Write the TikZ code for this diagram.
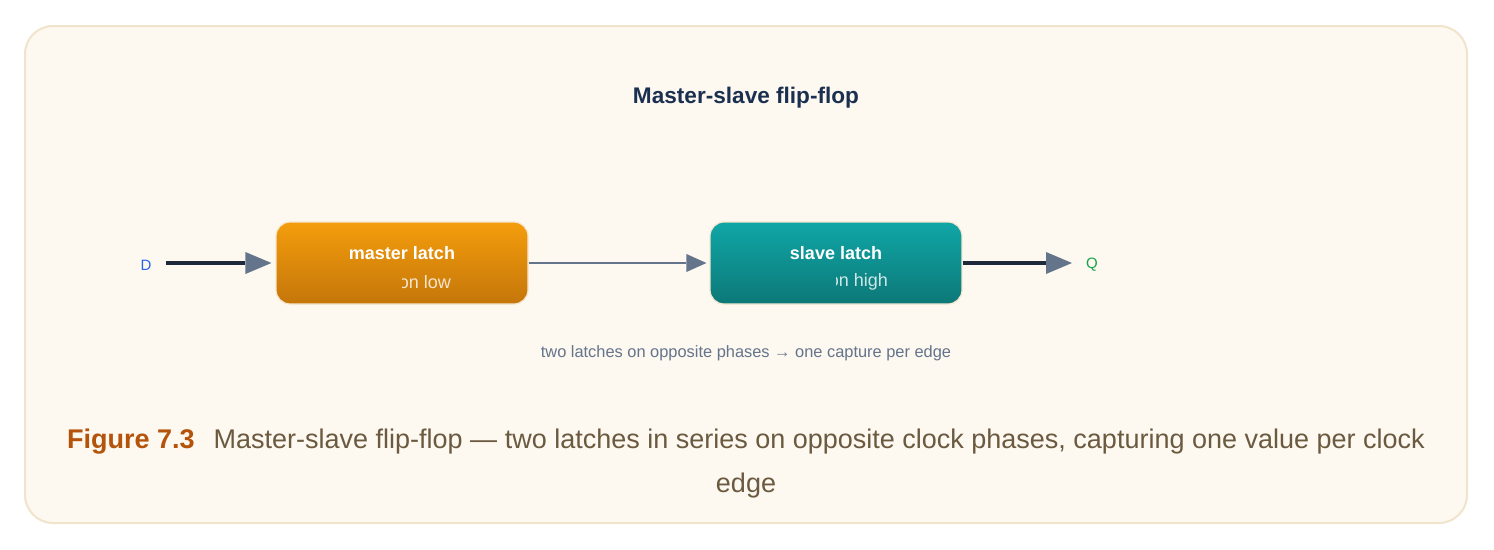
\documentclass[tikz,border=0pt]{standalone}
\usepackage{fontspec}
\setmainfont{Liberation Sans}
\usetikzlibrary{arrows.meta}
\definecolor{pagebg}{HTML}{FDF8F0}
\definecolor{pageborder}{HTML}{F1E4CC}
\definecolor{orgtop}{HTML}{F49D0C}
\definecolor{orgbot}{HTML}{C4760A}
\definecolor{tealtop}{HTML}{10A6A6}
\definecolor{tealbot}{HTML}{0D7878}
\definecolor{boxborder}{HTML}{F6E7CF}
\definecolor{darkline}{HTML}{1E293B}
\definecolor{slate}{HTML}{64748B}
\definecolor{titlec}{HTML}{1B3050}
\definecolor{dblue}{HTML}{2563EB}
\definecolor{qgreen}{HTML}{16A34A}
\definecolor{figc}{HTML}{B45309}
\definecolor{capc}{HTML}{6B5A40}
\tikzset{
  latchbox/.style={rectangle, rounded corners=14pt, minimum width=252pt, minimum height=82pt, draw=boxborder, line width=1.2pt},
  latchname/.style={text=white, font=\fontsize{18}{21}\selectfont\bfseries, inner sep=0pt, anchor=center},
  latchsub/.style={text=white, text opacity=0.8, font=\fontsize{18}{21}\selectfont, inner sep=0pt, anchor=east},
  thickarrow/.style={draw=darkline, line width=4pt, -{Triangle[length=26pt,width=22pt,line width=0pt,color=slate]}},
  thinarrow/.style={draw=slate, line width=2.8pt, -{Triangle[length=20pt,width=18pt,line width=0pt,color=slate]}},
  portlabel/.style={font=\fontsize{15}{18}\selectfont, inner sep=0pt}
}
\begin{document}
\begin{tikzpicture}[x=1pt,y=-1pt]
\useasboundingbox (0,0) rectangle (1494,549);
\fill[white] (0,0) rectangle (1494,549);
\draw[fill=pagebg, draw=pageborder, line width=2pt, rounded corners=28pt] (25,26) rectangle (1467,523);

\node[font=\fontsize{22.6}{26}\selectfont\bfseries, text=titlec] (title) at (746,98) {Master-slave flip-flop};

\node[latchbox, top color=orgtop, bottom color=orgbot] (master) at (402,263) {};
\node[latchbox, top color=tealtop, bottom color=tealbot] (slave) at (836,263) {};

\node[latchname] (mname) at (402,253) {master latch};
\node[latchname] (sname) at (836,253) {slave latch};
\begin{scope}
  \clip (402,266) rectangle (528,300);
  \node[latchsub] (msub) at (451,282) {on low};
\end{scope}
\begin{scope}
  \clip (836,266) rectangle (962,300);
  \node[latchsub] (ssub) at (888,282) {on high};
\end{scope}

\node[portlabel, text=dblue] (D) at (146,265) {D};
\node[portlabel, text=qgreen] (Q) at (1092,265) {Q};
\coordinate (din) at (166,263);
\coordinate (qout) at (1072,263);

\draw[thickarrow, shorten >=4pt] (din) -- (master.west);
\draw[thinarrow, shorten >=3pt] (master.east) -- (slave.west);
\draw[thickarrow] (slave.east) -- (qout);

\node[font=\fontsize{16.4}{20}\selectfont, text=slate] (note) at (746,353) {two latches on opposite phases → one capture per edge};

\node[font=\fontsize{27}{30}\selectfont, text=capc] (cap1) at (746,442) {\textbf{\color{figc}Figure 7.3}\hspace{19pt}Master-slave flip-flop — two latches in series on opposite clock phases, capturing one value per clock};
\node[font=\fontsize{27}{30}\selectfont, text=capc] (cap2) at (746,486) {edge};
\end{tikzpicture}
\end{document}
